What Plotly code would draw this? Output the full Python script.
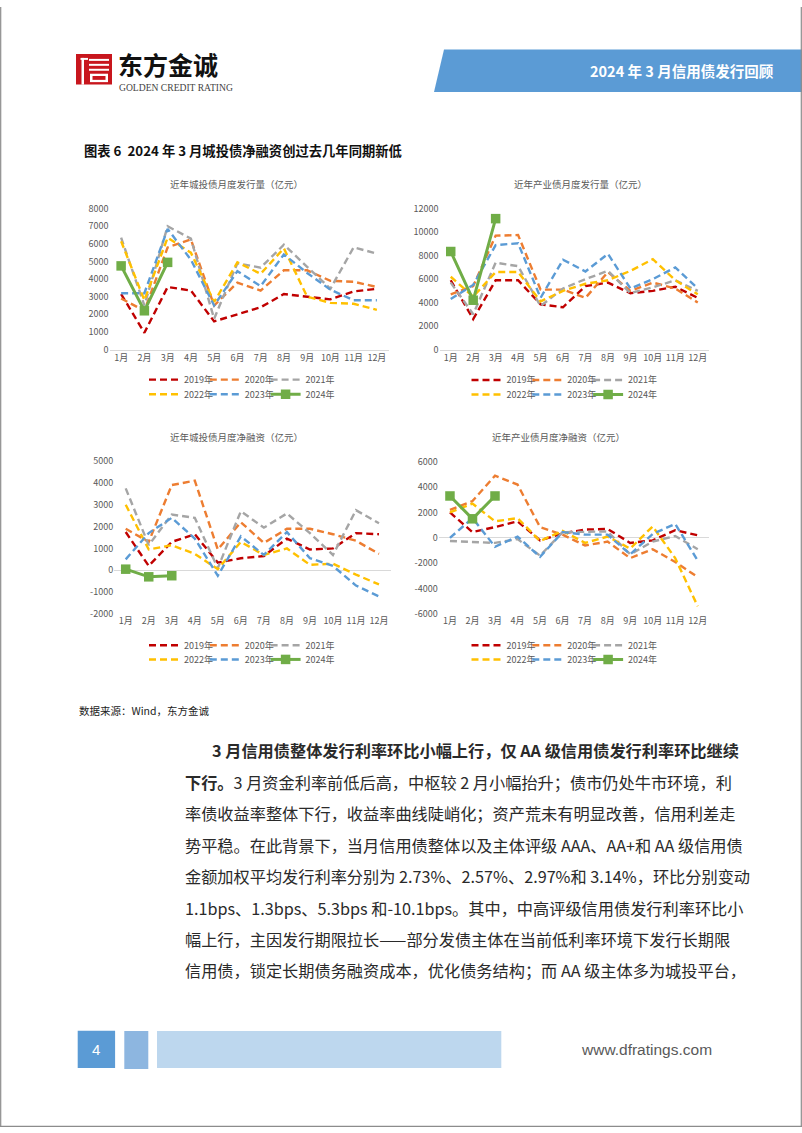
import plotly.graph_objects as go

W, H = 802, 1133

# ---------------- data ----------------
months = ["1月", "2月", "3月", "4月", "5月", "6月", "7月", "8月", "9月", "10月", "11月", "12月"]
years = ["2019年", "2020年", "2021年", "2022年", "2023年", "2024年"]
year_colors = ["#C00000", "#ED7D31", "#A5A5A5", "#FFC000", "#5B9BD5", "#70AD47"]

# 近年城投债月度发行量（亿元）
ct_issue_2019 = [3150, 950, 3550, 3350, 1600, 2000, 2400, 3150, 3000, 2850, 3300, 3450]
ct_issue_2020 = [2900, 2200, 5800, 6250, 2500, 3800, 3350, 4500, 4500, 3900, 3850, 3550]
ct_issue_2021 = [6350, 2500, 7000, 6300, 1750, 4900, 4650, 5950, 4700, 3450, 5800, 5450]
ct_issue_2022 = [6150, 2800, 6350, 5500, 2700, 4950, 4300, 5750, 3000, 2650, 2600, 2250]
ct_issue_2023 = [3200, 3200, 6850, 5100, 2500, 4450, 3600, 5400, 4350, 3400, 2800, 2800]
ct_issue_2024 = [4750, 2200, 4950]

# 近年产业债月度发行量（亿元）
cy_issue_2019 = [5900, 2600, 5900, 5900, 3850, 3600, 5400, 5700, 4800, 5000, 5350, 4400]
cy_issue_2020 = [4700, 5400, 9700, 9750, 5100, 5100, 4400, 6600, 5000, 5700, 5200, 4000]
cy_issue_2021 = [5700, 3000, 7400, 7100, 3700, 5200, 6000, 6700, 4800, 5300, 5900, 5000]
cy_issue_2022 = [6200, 4500, 6600, 6600, 4100, 5000, 5600, 5900, 6700, 7700, 5900, 4700]
cy_issue_2023 = [4300, 5500, 8900, 9050, 4400, 7650, 6650, 8150, 5200, 6000, 7000, 5200]
cy_issue_2024 = [8350, 4200, 11150]

# 近年城投债月度净融资（亿元）
ct_net_2019 = [1750, 200, 1300, 1650, 350, 550, 650, 1450, 950, 1000, 1700, 1650]
ct_net_2020 = [1900, 1300, 3900, 4100, 950, 2200, 1250, 1900, 1900, 1650, 1350, 750]
ct_net_2021 = [3750, 1150, 2550, 2400, 100, 2700, 1950, 2600, 1700, 700, 2750, 2150]
ct_net_2022 = [3000, 950, 1150, 750, 50, 1300, 700, 1000, 250, 300, -200, -650]
ct_net_2023 = [500, 1700, 2400, 1450, -250, 1550, 700, 1750, 550, 200, -700, -1200]
ct_net_2024 = [50, -300, -250]

# 近年产业债月度净融资（亿元）
cy_net_2019 = [2000, 450, 850, 1300, -200, 350, 650, 700, -400, -200, 600, 200]
cy_net_2020 = [2200, 2900, 4900, 4200, 850, 250, -600, -300, -1600, -900, -1900, -3100]
cy_net_2021 = [-250, -300, -400, -100, -1400, 450, 500, 500, -1300, -300, 150, -900]
cy_net_2022 = [2000, 2700, 1300, 1550, -250, 550, -400, 100, -850, 900, -1600, -5400]
cy_net_2023 = [0, 1550, -700, 100, -1500, 450, 250, 250, -1300, 300, 1100, -1800]
cy_net_2024 = [3300, 1500, 3300]

ticks_ct_issue = [0, 1000, 2000, 3000, 4000, 5000, 6000, 7000, 8000]
ticks_cy_issue = [0, 2000, 4000, 6000, 8000, 10000, 12000]
ticks_ct_net = [-2000, -1000, 0, 1000, 2000, 3000, 4000, 5000]
ticks_cy_net = [-6000, -4000, -2000, 0, 2000, 4000, 6000]

chart_titles = ["近年城投债月度发行量（亿元）", "近年产业债月度发行量（亿元）",
                "近年城投债月度净融资（亿元）", "近年产业债月度净融资（亿元）"]

body_lines = [
    "<b>3 月信用债整体发行利率环比小幅上行，仅 AA 级信用债发行利率环比继续</b>",
    "<b>下行。</b>3 月资金利率前低后高，中枢较 2 月小幅抬升；债市仍处牛市环境，利",
    "率债收益率整体下行，收益率曲线陡峭化；资产荒未有明显改善，信用利差走",
    "势平稳。在此背景下，当月信用债整体以及主体评级 AAA、AA+和 AA 级信用债",
    "金额加权平均发行利率分别为 2.73%、2.57%、2.97%和 3.14%，环比分别变动",
    "1.1bps、1.3bps、5.3bps 和-10.1bps。其中，中高评级信用债发行利率环比小",
    "幅上行，主因发行期限拉长——部分发债主体在当前低利率环境下发行长期限",
    "信用债，锁定长期债务融资成本，优化债务结构；而 AA 级主体多为城投平台，",
]

# ---------------- helpers ----------------
def px(x):
    return x / W


def py(y):
    return 1 - y / H


CJK = "Noto Sans CJK SC"
GREY = "#595959"

charts = [
    dict(series=[ct_issue_2019, ct_issue_2020, ct_issue_2021, ct_issue_2022, ct_issue_2023, ct_issue_2024],
         ticks=ticks_ct_issue, x0=109.5, x1=388.5, ytop=204.0, ybot=346.5,
         title_xy=(236.7, 179), leg_x=149.0, leg_rows=(377.0, 391.7), below=False),
    dict(series=[cy_issue_2019, cy_issue_2020, cy_issue_2021, cy_issue_2022, cy_issue_2023, cy_issue_2024],
         ticks=ticks_cy_issue, x0=439.5, x1=709.0, ytop=204.0, ybot=346.5,
         title_xy=(580.8, 179), leg_x=471.5, leg_rows=(377.3, 392.0), below=False),
    dict(series=[ct_net_2019, ct_net_2020, ct_net_2021, ct_net_2022, ct_net_2023, ct_net_2024],
         ticks=ticks_ct_net, x0=114.2, x1=390.5, ytop=459.3, ybot=614.0,
         title_xy=(236.7, 435), leg_x=149.0, leg_rows=(645.7, 660.0), below=True),
    dict(series=[cy_net_2019, cy_net_2020, cy_net_2021, cy_net_2022, cy_net_2023, cy_net_2024],
         ticks=ticks_cy_net, x0=438.7, x1=709.0, ytop=460.0, ybot=614.0,
         title_xy=(558.0, 435), leg_x=471.5, leg_rows=(645.7, 660.0), below=True),
]

fig = go.Figure()
layout = dict(
    width=W, height=H, margin=dict(l=0, r=0, t=0, b=0),
    paper_bgcolor="white", plot_bgcolor="rgba(0,0,0,0)",
    showlegend=True,
)
annotations = []
shapes = []

legend_counter = 0
for ci, ch in enumerate(charts):
    n = ci + 1
    xa = "x" if n == 1 else f"x{n}"
    ya = "y" if n == 1 else f"y{n}"
    xkey = "xaxis" if n == 1 else f"xaxis{n}"
    ykey = "yaxis" if n == 1 else f"yaxis{n}"
    leg_names = []
    for r in range(2):
        legend_counter += 1
        lname = "legend" if legend_counter == 1 else f"legend{legend_counter}"
        leg_names.append(lname)
        layout[lname] = dict(
            orientation="h", x=px(ch["leg_x"] - 5), xanchor="left",
            y=py(ch["leg_rows"][r]), yanchor="middle",
            entrywidth=15.8, entrywidthmode="pixels",
            font=dict(family=CJK, size=9, color=GREY),
            bgcolor="rgba(0,0,0,0)", itemwidth=30, tracegroupgap=0,
        )
    for yi, vals in enumerate(ch["series"]):
        is_cur = yi == 5
        fig.add_trace(go.Scatter(
            x=months[:len(vals)], y=vals, name=years[yi],
            mode="lines+markers" if is_cur else "lines",
            line=dict(color=year_colors[yi], width=3 if is_cur else 2.4,
                      dash="solid" if is_cur else "7px,4px"),
            marker=dict(symbol="square", size=9.5, color=year_colors[yi]),
            xaxis=xa, yaxis=ya, legend=leg_names[0 if yi < 3 else 1],
            legendwidth=34 if yi in (2, 5) else None,
            cliponaxis=False, hoverinfo="skip",
        ))
    ticks = ch["ticks"]
    layout[xkey] = dict(
        domain=[px(ch["x0"]), px(ch["x1"])], anchor=ya, type="category",
        categoryorder="array", categoryarray=months, range=[-0.5, 11.5],
        showgrid=False, zeroline=False, ticks="",
        showline=not ch["below"], linecolor="#D9D9D9", linewidth=1,
        tickfont=dict(family=CJK, size=9, color=GREY),
    )
    layout[ykey] = dict(
        domain=[py(ch["ybot"]), py(ch["ytop"])], anchor=xa,
        range=[ticks[0], ticks[-1]], tickvals=ticks, ticktext=[str(t) for t in ticks],
        showgrid=False, zeroline=ch["below"], zerolinecolor="#D9D9D9", zerolinewidth=1,
        showline=False, ticks="",
        tickfont=dict(family=CJK, size=9, color=GREY),
    )
    annotations.append(dict(
        text=chart_titles[ci], x=px(ch["title_xy"][0]), y=py(ch["title_xy"][1]),
        xref="paper", yref="paper", xanchor="center", yanchor="middle", showarrow=False,
        font=dict(family=CJK, size=9.5, color=GREY),
    ))

# ---------------- page decorations ----------------
# banner
shapes.append(dict(type="path", xref="paper", yref="paper",
                   path=f"M {px(444)},{py(43)} L {px(802)},{py(43)} L {px(802)},{py(86)} L {px(434)},{py(86)} Z",
                   fillcolor="#5B9BD5", line=dict(width=0), layer="below"))
annotations.append(dict(text="<b>2024 年 3 月信用债发行回顾</b>", x=px(776), y=py(64),
                        xref="paper", yref="paper", xanchor="right", yanchor="middle", showarrow=False,
                        font=dict(family=CJK, size=14.5, color="white")))


def rect(x0, y0, x1, y1, color):
    shapes.append(dict(type="rect", xref="paper", yref="paper",
                       x0=px(x0), x1=px(x1), y0=py(y1), y1=py(y0),
                       fillcolor=color, line=dict(width=0), layer="above"))


# logo
RED = "#C8161D"
rect(76, 47.5, 112, 78.5, RED)
rect(80.5, 51.5, 88, 53.5, "white")
rect(81.5, 51.5, 84, 78.5, "white")
rect(89, 52.5, 109, 54.5, "white")
rect(89, 57.5, 109, 59.5, "white")
rect(89, 62.5, 109, 64.5, "white")
rect(90, 67.5, 108, 76, "white")
rect(92.5, 69.8, 105.5, 73.7, RED)

annotations.append(dict(text="<b>东方金诚</b>", x=px(116), y=py(57.5), xref="paper", yref="paper",
                        xanchor="left", yanchor="middle", showarrow=False,
                        font=dict(family=CJK, size=25, color="#111111")))
annotations.append(dict(text="GOLDEN CREDIT RATING", x=px(117), y=py(81.5), xref="paper", yref="paper",
                        xanchor="left", yanchor="middle", showarrow=False,
                        font=dict(family="Liberation Serif", size=9.6, color="#444444")))

# caption
annotations.append(dict(text="<b>图表 6&nbsp;&nbsp;2024 年 3 月城投债净融资创过去几年同期新低</b>",
                        x=px(82), y=py(145),
                        xref="paper", yref="paper", xanchor="left", yanchor="middle", showarrow=False,
                        font=dict(family=CJK, size=13.3, color="#111111")))

# source
annotations.append(dict(text="数据来源：Wind，东方金诚", x=px(77), y=py(712),
                        xref="paper", yref="paper", xanchor="left", yanchor="middle", showarrow=False,
                        font=dict(family=CJK, size=10.5, color="#222222")))

# body
for i, ln in enumerate(body_lines):
    annotations.append(dict(text=ln, x=px(210 if i == 0 else 183), y=py(752 + i * 31.8),
                            xref="paper", yref="paper", xanchor="left", yanchor="middle", showarrow=False,
                            font=dict(family=CJK, size=16.2, color="#2a2a2a")))

# footer
rect(77.7, 1035.7, 115.1, 1073.3, "#5B9BD5")
rect(124.3, 1036, 148.3, 1074.3, "#8DB6E0")
rect(157, 1036, 501.3, 1073.3, "#BDD7EE")
annotations.append(dict(text="4", x=px(96.4), y=py(1055), xref="paper", yref="paper",
                        xanchor="center", yanchor="middle", showarrow=False,
                        font=dict(family="Liberation Sans", size=15, color="white")))
annotations.append(dict(text="www.dfratings.com", x=px(713.5), y=py(1055), xref="paper", yref="paper",
                        xanchor="right", yanchor="middle", showarrow=False,
                        font=dict(family="Liberation Sans", size=15.5, color="#595959")))

# page border (left, right and bottom edges)
for (x0, y0, x1, y1) in [(0.7, 0, 0.7, H), (W - 0.7, 0, W - 0.7, H), (0, H - 0.7, W, H - 0.7)]:
    shapes.append(dict(type="line", xref="paper", yref="paper", x0=px(x0), x1=px(x1), y0=py(y0), y1=py(y1),
                       line=dict(color="#8C8C8C", width=1.2), layer="above"))

layout["annotations"] = annotations
layout["shapes"] = shapes
fig.update_layout(**layout)
fig.write_html("out.html", config={"displayModeBar": False},
               post_script="document.body.style.margin='0';document.body.style.overflow='hidden';")
